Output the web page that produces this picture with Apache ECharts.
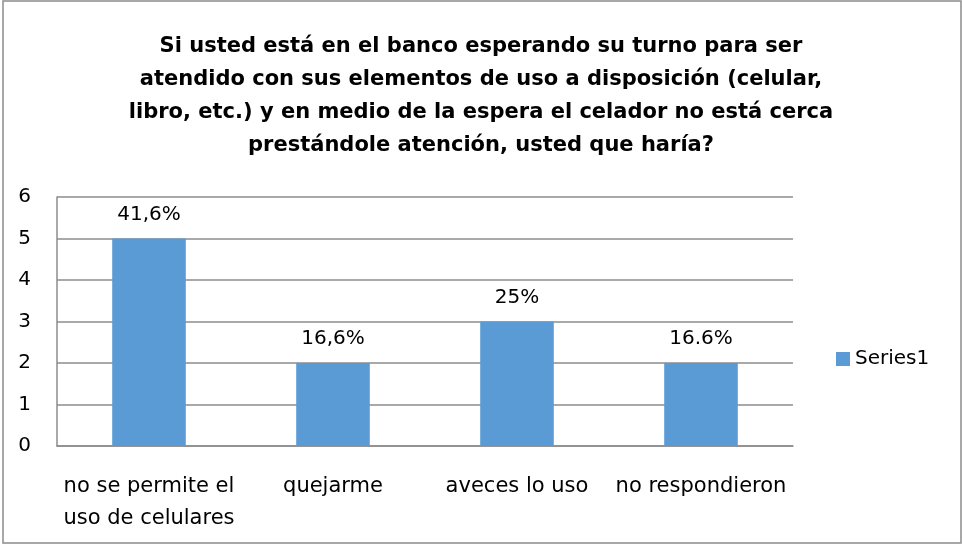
<!DOCTYPE html>
<html>
<head>
<meta charset="utf-8">
<script src="https://cdn.jsdelivr.net/npm/echarts@6/dist/echarts.min.js"></script>
<style>
	html, body { margin: 0; padding: 0; background: #fff; }
	#chart { width: 962px; height: 545px; }
</style>
</head>
<body>
<div id="chart"></div>
<script>
	var categories = ['no se permite el\nuso de celulares', 'quejarme', 'aveces lo uso', 'no respondieron']
	var values = [5, 2, 3, 2]
	var valueLabels = ['41,6%', '16,6%', '25%', '16.6%']
	var titleLines = [
		'Si usted está en el banco esperando su turno para ser',
		'atendido con sus elementos de uso a disposición (celular,',
		'libro, etc.) y en medio de la espera el celador no está cerca',
		'prestándole atención, usted que haría?'
	]

	var font = '"DejaVu Sans", sans-serif'
	var gray = '#8c8c8c'
	var barColor = '#5b9bd5'

	var chart = echarts.init(document.getElementById('chart'))

	chart.setOption({
		animation: false,
		title: {
			text: titleLines.join('\n'),
			left: 'center',
			top: 25,
			textStyle: {
				fontFamily: font,
				fontWeight: 'bold',
				fontSize: 21,
				lineHeight: 33,
				color: '#000'
			}
		},
		graphic: [{
			type: 'rect',
			shape: { x: 3, y: 1, width: 958, height: 542 },
			style: { fill: 'none', stroke: gray, lineWidth: 1.5 },
			silent: true
		}],
		legend: {
			data: ['Series1'],
			left: 831,
			top: 344,
			icon: 'rect',
			itemWidth: 14,
			itemHeight: 14,
			itemGap: 8,
			textStyle: { fontFamily: font, fontSize: 20, color: '#000' }
		},
		grid: {
			left: 57,
			right: 169,
			top: 197,
			bottom: 99,
			containLabel: false
		},
		xAxis: {
			type: 'category',
			data: categories,
			axisTick: { show: false },
			axisLine: { lineStyle: { color: gray, width: 1.5 } },
			axisLabel: {
				interval: 0,
				margin: 25,
				fontFamily: font,
				fontSize: 21,
				lineHeight: 32,
				color: '#000'
			}
		},
		yAxis: {
			type: 'value',
			min: 0,
			max: 6,
			interval: 1,
			axisLine: { show: true, lineStyle: { color: gray, width: 1.5 } },
			axisTick: { show: false },
			axisLabel: {
				margin: 26,
				fontFamily: font,
				fontSize: 20,
				color: '#000'
			},
			splitLine: { lineStyle: { color: gray, width: 1.5 } }
		},
		series: [{
			name: 'Series1',
			type: 'bar',
			data: values,
			barWidth: '40%',
			itemStyle: { color: barColor },
			label: {
				show: true,
				position: 'top',
				distance: 14,
				fontFamily: font,
				fontSize: 20,
				color: '#000',
				formatter: function (p) { return valueLabels[p.dataIndex] }
			}
		}]
	})
</script>
</body>
</html>
